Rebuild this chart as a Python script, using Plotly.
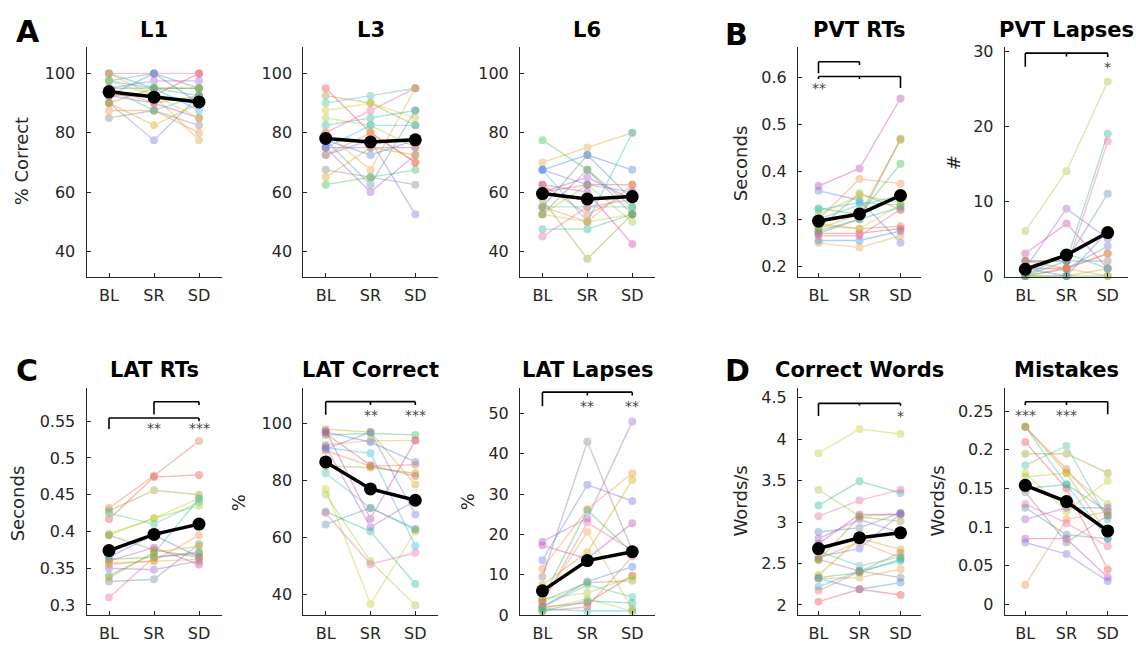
import plotly.graph_objects as go

# ---------------- data ----------------
CONDITIONS = ["BL", "SR", "SD"]
XPOS = [1, 2, 3]

l1_subjects = [
    [100, 95, 92.5], [100, 100, 100], [97.5, 100, 95], [95, 97.5, 97.5], [92.5, 90, 85],
    [90, 77.5, 92.5], [87.5, 87.5, 80], [85, 87.5, 82.5], [90, 82.5, 90], [95, 95, 95],
    [100, 92.5, 77.5], [92.5, 100, 90], [97.5, 95, 87.5], [95, 90, 92.5], [92.5, 92.5, 100],
    [90, 95, 95], [95, 87.5, 92.5], [97.5, 92.5, 85],
]
l1_mean = [93.8, 92.0, 90.4]

l3_subjects = [
    [95, 80, 70], [92.5, 90, 82.5], [90, 92.5, 95], [87.5, 90, 85], [85, 82.5, 75],
    [82.5, 85, 87.5], [80, 87.5, 95], [77.5, 62.5, 87.5], [75, 60, 72.5], [75, 75, 75],
    [72.5, 77.5, 52.5], [72.5, 80, 70], [67.5, 65, 62.5], [65, 75, 72.5], [62.5, 65, 67.5],
    [80, 67.5, 95], [77.5, 72.5, 77.5], [75, 82.5, 82.5],
]
l3_mean = [78.1, 76.9, 77.6]

l6_subjects = [
    [77.5, 67.5, 55], [70, 75, 80], [67.5, 72.5, 67.5], [67.5, 50, 80], [62.5, 52.5, 60],
    [60, 62.5, 62.5], [57.5, 37.5, 52.5], [55, 55, 55], [52.5, 50, 52.5], [52.5, 62.5, 50],
    [47.5, 47.5, 52.5], [45, 55, 57.5], [55, 72.5, 57.5], [60, 65, 57.5], [62.5, 60, 42.5],
    [67.5, 62.5, 60], [55, 50, 62.5], [52.5, 67.5, 52.5],
]
l6_mean = [59.5, 57.7, 58.5]

pvt_rt_subjects = [
    [0.37, 0.407, 0.555], [0.36, 0.34, 0.25], [0.30, 0.385, 0.375], [0.27, 0.30, 0.47],
    [0.28, 0.31, 0.467], [0.323, 0.31, 0.417], [0.25, 0.24, 0.265], [0.255, 0.255, 0.275],
    [0.32, 0.335, 0.33], [0.29, 0.28, 0.285], [0.27, 0.27, 0.28], [0.28, 0.355, 0.32],
    [0.30, 0.33, 0.35], [0.285, 0.28, 0.33], [0.31, 0.35, 0.335], [0.275, 0.30, 0.325],
    [0.265, 0.265, 0.32],
]
pvt_rt_mean = [0.296, 0.311, 0.350]

pvt_lapse_subjects = [
    [6, 14, 26], [0, 2, 19], [1, 1, 18], [2, 2, 11], [1, 9, 5], [3, 7, 1], [0, 1, 4],
    [1, 1, 3], [2, 2, 2], [0, 0, 1], [0, 0, 0], [0, 1, 0], [1, 0, 6], [0, 3, 1], [2, 1, 3],
]
pvt_lapse_mean = [0.9, 2.8, 5.8]

lat_rt_subjects = [
    [0.432, 0.476, 0.523], [0.417, 0.474, 0.477], [0.428, 0.456, 0.45], [0.425, 0.41, 0.44],
    [0.397, 0.418, 0.445], [0.395, 0.418, 0.435], [0.34, 0.37, 0.445], [0.31, 0.365, 0.37],
    [0.332, 0.335, 0.383], [0.35, 0.348, 0.36], [0.36, 0.378, 0.355], [0.365, 0.395, 0.365],
    [0.355, 0.36, 0.395], [0.395, 0.375, 0.365], [0.337, 0.372, 0.38], [0.362, 0.365, 0.372],
    [0.357, 0.36, 0.362],
]
lat_rt_mean = [0.374, 0.396, 0.410]

lat_correct_subjects = [
    [98, 97, 78.5], [96, 96.5, 96], [92.5, 94, 94], [97, 93.5, 86.5], [91.5, 89.5, 57],
    [90.5, 85, 85.5], [96.5, 85.3, 81.5], [85, 84.5, 82.5], [82.5, 70.3, 62.5], [77, 36.5, 62],
    [75, 51.5, 36], [69, 62, 43.5], [68.5, 50.5, 54.5], [64.5, 70.3, 63], [92, 63.5, 73],
    [97.5, 66.5, 94], [91, 97, 68],
]
lat_correct_mean = [86.5, 77.0, 73.0]

lat_lapse_subjects = [
    [18.2, 24, 48], [17.3, 14, 22.8], [13.6, 32.3, 28.3], [11.5, 26.3, 35.2], [9.5, 43, 16],
    [7.5, 15.6, 33.5], [4, 26, 15.5], [3.5, 20.6, 1.5], [2, 8.3, 12], [1.5, 1, 1],
    [1, 2, 14.5], [2, 3, 9.8], [3.5, 8, 8.5], [2, 7.5, 4.5], [1.5, 4, 1], [4, 5.5, 9.5],
    [1, 3.5, 3], [3, 23, 16],
]
lat_lapse_mean = [6.0, 13.5, 15.7]

words_subjects = [
    [3.83, 4.12, 4.06], [3.39, 3.07, 3.10], [3.20, 3.49, 3.35], [3.07, 3.26, 3.39],
    [2.88, 2.93, 3.11], [2.80, 3.03, 2.87], [2.74, 3.09, 3.09], [2.58, 2.68, 3.10],
    [2.56, 2.76, 2.57], [2.55, 2.41, 2.33], [2.36, 2.80, 2.67], [2.33, 2.39, 2.55],
    [2.32, 2.33, 2.43], [2.32, 2.19, 2.27], [2.22, 2.41, 2.53], [2.17, 2.40, 2.63],
    [2.04, 2.19, 2.12], [2.54, 3.06, 3.01], [2.65, 2.47, 2.58],
]
words_mean = [2.68, 2.81, 2.87]

mistakes_subjects = [
    [0.23, 0.155, 0.085], [0.23, 0.175, 0.115], [0.21, 0.15, 0.045], [0.195, 0.195, 0.17],
    [0.18, 0.205, 0.11], [0.17, 0.12, 0.16], [0.165, 0.17, 0.13], [0.15, 0.155, 0.12],
    [0.13, 0.105, 0.075], [0.125, 0.09, 0.085], [0.11, 0.125, 0.125], [0.085, 0.085, 0.035],
    [0.08, 0.065, 0.03], [0.025, 0.11, 0.12], [0.145, 0.08, 0.115], [0.23, 0.17, 0.09],
]
mistakes_mean = [0.154, 0.133, 0.095]

# ---------------- styling / layout ----------------
W, H = 1136, 656
FONT = "DejaVu Sans"
AXC = "#262626"

PALETTE = ["#1fb89a", "#3d7fe0", "#9b59d0", "#e6423c", "#ef8a3c", "#c8c820", "#34b84a",
           "#ee5fa0", "#25b5e0", "#c03fa8", "#9a9a20", "#7f7f7f", "#a0c830", "#e0a030",
           "#5a8a9a", "#e07050", "#6f6fe8", "#40c0a0", "#d0a000"]

COL_PX = [(86.5, 221.5), (303.3, 437.7), (520, 654.7), (798, 921), (1004.7, 1128.3)]
ROW_PX = [(43.3, 278.3), (391.7, 624.3)]

PANELS = [
    dict(title="L1", subj=l1_subjects, mean=l1_mean, yr=[31.4, 108.8],
         tv=[40, 60, 80, 100], tt=["40", "60", "80", "100"], r=0, c=0),
    dict(title="L3", subj=l3_subjects, mean=l3_mean, yr=[31.4, 108.8],
         tv=[40, 60, 80, 100], tt=["40", "60", "80", "100"], r=0, c=1),
    dict(title="L6", subj=l6_subjects, mean=l6_mean, yr=[31.4, 108.8],
         tv=[40, 60, 80, 100], tt=["40", "60", "80", "100"], r=0, c=2),
    dict(title="PVT RTs", subj=pvt_rt_subjects, mean=pvt_rt_mean, yr=[0.178, 0.663],
         tv=[0.2, 0.3, 0.4, 0.5, 0.6], tt=["0.2", "0.3", "0.4", "0.5", "0.6"], r=0, c=3),
    dict(title="PVT Lapses", subj=pvt_lapse_subjects, mean=pvt_lapse_mean, yr=[-0.13, 30.57],
         tv=[0, 10, 20, 30], tt=["0", "10", "20", "30"], r=0, c=4),
    dict(title="LAT RTs", subj=lat_rt_subjects, mean=lat_rt_mean, yr=[0.2863, 0.5956],
         tv=[0.3, 0.35, 0.4, 0.45, 0.5, 0.55], tt=["0.3", "0.35", "0.4", "0.45", "0.5", "0.55"], r=1, c=0),
    dict(title="LAT Correct", subj=lat_correct_subjects, mean=lat_correct_mean, yr=[32.6, 112.6],
         tv=[40, 60, 80, 100], tt=["40", "60", "80", "100"], r=1, c=1),
    dict(title="LAT Lapses", subj=lat_lapse_subjects, mean=lat_lapse_mean, yr=[0, 56.4],
         tv=[0, 10, 20, 30, 40, 50], tt=["0", "10", "20", "30", "40", "50"], r=1, c=2),
    dict(title="Correct Words", subj=words_subjects, mean=words_mean, yr=[1.879, 4.618],
         tv=[2, 2.5, 3, 3.5, 4, 4.5], tt=["2", "2.5", "3", "3.5", "4", "4.5"], r=1, c=3),
    dict(title="Mistakes", subj=mistakes_subjects, mean=mistakes_mean, yr=[-0.0139, 0.2804],
         tv=[0, 0.05, 0.1, 0.15, 0.2, 0.25], tt=["0", "0.05", "0.1", "0.15", "0.2", "0.25"], r=1, c=4),
]

# significance brackets: (panel index, y of bar, x from, x to, [(x, y end of drop)], [(text, x, y)])
BRACKETS = [
    (3, 0.6324, 1, 2, [(1, 0.6083), (2, 0.6254)], []),
    (3, 0.6014, 1, 3, [(1, 0.5959), (2, 0.5959), (3, 0.5773)], [("**", 1, 0.584)]),
    (4, 29.79, 1, 3, [(1, 27.96), (2, 29.35), (3, 29.27)], [("*", 3, 28.4)]),
    (5, 0.5766, 2, 3, [(2, 0.5593), (3, 0.5722)], []),
    (5, 0.5544, 1, 3, [(1, 0.5394), (3, 0.5500)], [("**", 2, 0.5447), ("***", 3, 0.5447)]),
    (6, 107.7, 1, 3, [(1, 103.1), (2, 106.5), (3, 106.5)], [("**", 2, 104.0), ("***", 3, 104.0)]),
    (7, 55.3, 1, 3, [(1, 51.8), (2, 54.5), (3, 54.5)], [("**", 2, 52.6), ("**", 3, 52.6)]),
    (8, 4.429, 1, 3, [(1, 4.276), (2, 4.405), (3, 4.40)], [("*", 3, 4.316)]),
    (9, 0.2623, 1, 3, [(1, 0.258), (2, 0.258), (3, 0.2462)], [("***", 1, 0.2487), ("***", 2, 0.2487)]),
]

# y-axis titles: (text, x px, y px)
YTITLES = [("% Correct", 21, 160), ("Seconds", 740, 162), ("#", 953, 162),
           ("Seconds", 17, 510), ("%", 238, 510), ("%", 467, 509),
           ("Words/s", 740, 508), ("Words/s", 937, 508)]
LETTERS = [("A", 28, 27), ("B", 736, 30), ("C", 27, 374), ("D", 737, 374)]
TITLE_Y = [26, 374]


def px_x(p):
    return p / W


def px_y(p):
    return 1 - p / H


fig = go.Figure()
layout = dict(width=W, height=H, margin=dict(l=0, r=0, t=0, b=0),
              paper_bgcolor="white", plot_bgcolor="white", showlegend=False,
              font=dict(family=FONT, color=AXC))
annotations = []
shapes = []

for i, p in enumerate(PANELS):
    n = i + 1
    xa = "x" if n == 1 else f"x{n}"
    ya = "y" if n == 1 else f"y{n}"
    x0, x1 = COL_PX[p["c"]]
    yt, yb = ROW_PX[p["r"]]
    for k, s in enumerate(p["subj"]):
        col = PALETTE[(k * 7 + i * 3) % len(PALETTE)]
        fig.add_trace(go.Scatter(x=XPOS, y=s, xaxis=xa, yaxis=ya, mode="lines+markers",
                                 line=dict(color=col, width=1.4),
                                 marker=dict(color=col, size=8), opacity=0.38,
                                 cliponaxis=False, hoverinfo="skip"))
    fig.add_trace(go.Scatter(x=XPOS, y=p["mean"], xaxis=xa, yaxis=ya, mode="lines+markers",
                             line=dict(color="black", width=3.5),
                             marker=dict(color="black", size=13), cliponaxis=False))
    axkey_x = "xaxis" if n == 1 else f"xaxis{n}"
    axkey_y = "yaxis" if n == 1 else f"yaxis{n}"
    layout[axkey_x] = dict(domain=[px_x(x0), px_x(x1)], anchor=ya, range=[0.5, 3.5],
                           tickmode="array", tickvals=XPOS, ticktext=CONDITIONS,
                           showline=True, linecolor=AXC, linewidth=1, ticks="inside",
                           ticklen=4, tickcolor=AXC, showgrid=False, zeroline=False,
                           tickfont=dict(family=FONT, size=16, color=AXC),
                           ticklabelstandoff=4, fixedrange=True)
    layout[axkey_y] = dict(domain=[px_y(yb), px_y(yt)], anchor=xa, range=p["yr"],
                           tickmode="array", tickvals=p["tv"], ticktext=p["tt"],
                           showline=True, linecolor=AXC, linewidth=1, ticks="inside",
                           ticklen=4, tickcolor=AXC, showgrid=False, zeroline=False,
                           tickfont=dict(family=FONT, size=16, color=AXC),
                           ticklabelstandoff=7, fixedrange=True)
    annotations.append(dict(text=f"<b>{p['title']}</b>", xref="paper", yref="paper",
                            x=px_x((x0 + x1) / 2), y=px_y(TITLE_Y[p["r"]]),
                            xanchor="center", yanchor="middle", showarrow=False,
                            font=dict(family=FONT, size=21, color="black")))

for (pi, yb, xf, xt, drops, stars) in BRACKETS:
    n = pi + 1
    xa = "x" if n == 1 else f"x{n}"
    ya = "y" if n == 1 else f"y{n}"
    shapes.append(dict(type="line", xref=xa, yref=ya, x0=xf, x1=xt, y0=yb, y1=yb,
                       line=dict(color="black", width=1.6)))
    for (dx, dy) in drops:
        shapes.append(dict(type="line", xref=xa, yref=ya, x0=dx, x1=dx, y0=yb, y1=dy,
                           line=dict(color="black", width=1.6)))
    for (txt, sx, sy) in stars:
        annotations.append(dict(text=txt, xref=xa, yref=ya, x=sx, y=sy, xanchor="center",
                                yanchor="middle", showarrow=False, yshift=-3,
                                font=dict(family=FONT, size=14, color="#444444")))

for (txt, xp, yp) in YTITLES:
    annotations.append(dict(text=txt, xref="paper", yref="paper", x=px_x(xp), y=px_y(yp),
                            xanchor="center", yanchor="middle", textangle=-90, showarrow=False,
                            font=dict(family=FONT, size=18, color=AXC)))
for (txt, xp, yp) in LETTERS:
    annotations.append(dict(text=f"<b>{txt}</b>", xref="paper", yref="paper", x=px_x(xp),
                            y=px_y(yp), xanchor="center", yanchor="middle", showarrow=False,
                            font=dict(family=FONT, size=30, color="black")))

layout["annotations"] = annotations
layout["shapes"] = shapes
fig.update_layout(**layout)
fig.write_html("out.html")
